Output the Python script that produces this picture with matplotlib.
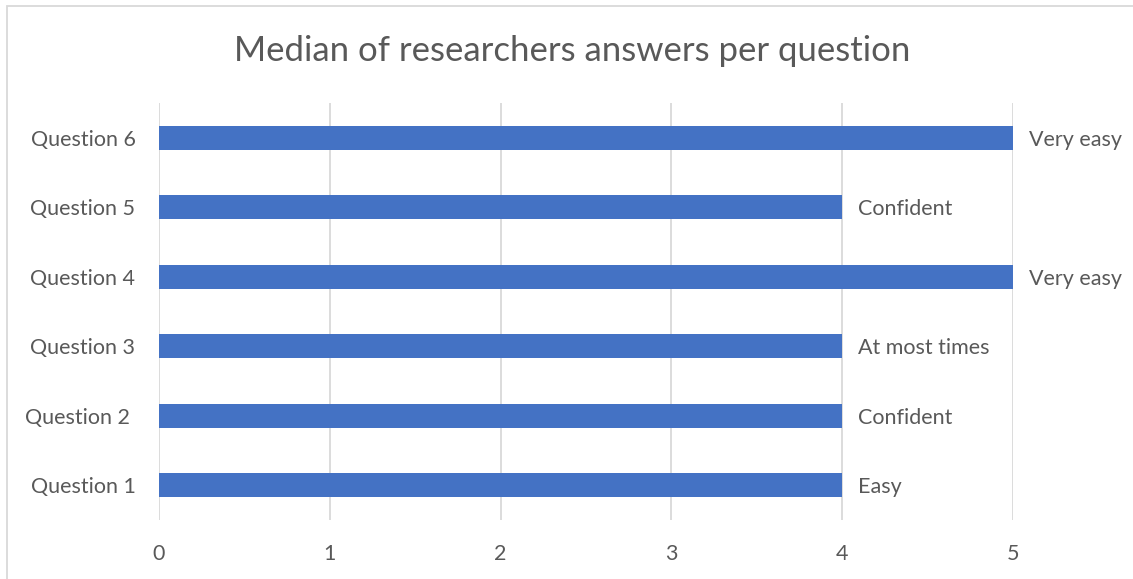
import matplotlib
matplotlib.use("Agg")
import matplotlib.pyplot as plt
from matplotlib.patches import Rectangle

categories = ["Question 1", "Question 2 ", "Question 3", "Question 4", "Question 5", "Question 6"]
medians = [4, 4, 4, 5, 4, 5]
answer_labels = ["Easy", "Confident", "At most times", "Very easy", "Confident", "Very easy"]
x_ticks = [0, 1, 2, 3, 4, 5]

plt.rcParams['font.family'] = ['Lato', 'DejaVu Sans']
text_color = "#595959"
W, H = 1133, 579
fig = plt.figure(figsize=(W / 100, H / 100), dpi=100)
ax = fig.add_axes([159 / W, 1 - 520 / H, (1013 - 159) / W, (520 - 103) / H])

ypos = list(range(len(categories)))
ax.barh(ypos, medians, height=0.35, color="#4472C4", zorder=3)
for y, v, lab in zip(ypos, medians, answer_labels):
    ax.annotate(lab, xy=(v, y), xytext=(16, -2), textcoords="offset pixels",
                va="center", ha="left", fontsize=15.5, color=text_color)

ax.set_xlim(0, 5)
ax.set_ylim(-0.5, len(categories) - 0.5)
ax.set_xticks(x_ticks)
ax.set_xticklabels([str(t) for t in x_ticks])
ax.set_yticks(ypos)
ax.set_yticklabels(categories)
ax.tick_params(axis="x", length=0, pad=17, labelsize=15.5, labelcolor=text_color)
ax.tick_params(axis="y", length=0, pad=17, labelsize=15.5, labelcolor=text_color)
ax.grid(axis="x", color="#d9d9d9", linewidth=1.3, zorder=0)
for s in ax.spines.values():
    s.set_visible(False)

fig.text(0.505, 1 - 51 / H, "Median of researchers answers per question",
         ha="center", va="center", fontsize=25, color=text_color)

fig.patches.append(Rectangle((7 / W, -0.1), 1.2, 1 - 6 / H + 0.1,
                             transform=fig.transFigure, fill=False,
                             edgecolor="#d9d9d9", linewidth=1.3))

fig.savefig("out.png", dpi=100)
